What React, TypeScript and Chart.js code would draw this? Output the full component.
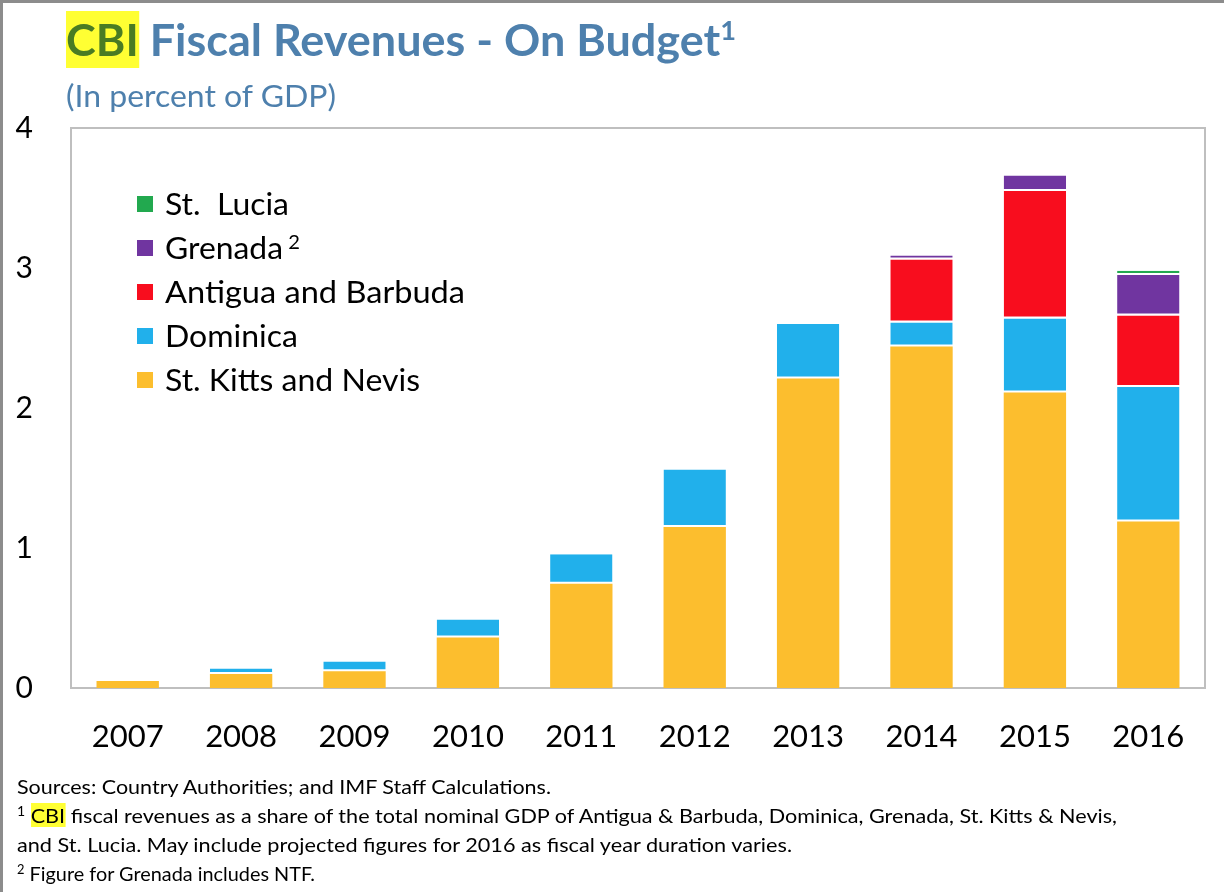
import React, { useEffect, useLayoutEffect, useRef } from "react";
import { Chart, registerables } from "chart.js";

Chart.register(...registerables);

const years = ["2007", "2008", "2009", "2010", "2011", "2012", "2013", "2014", "2015", "2016"];
const stKittsNevis = [0.05, 0.1, 0.12, 0.36, 0.745, 1.15, 2.21, 2.44, 2.11, 1.19];
const dominica = [null, 0.04, 0.07, 0.13, 0.21, 0.41, 0.39, 0.17, 0.53, 0.96];
const antiguaBarbuda = [null, null, null, null, null, null, null, 0.45, 0.91, 0.51];
const grenada = [null, null, null, null, null, null, null, 0.03, 0.11, 0.29];
const stLucia = [null, null, null, null, null, null, null, null, null, 0.03];
const yTickValues = [0, 1, 2, 3, 4];

const COLORS = {
  stLucia: "#22A94F",
  grenada: "#7035A0",
  antigua: "#F80D1E",
  dominica: "#21B0EB",
  stKitts: "#FCBE2E",
};

const FONT = "Lato, 'Open Sans', sans-serif";
const TITLE_BLUE = "#4E80AD";

const legendItems = [
  { label: "St.  Lucia", sup: "", color: COLORS.stLucia, w: 124 },
  { label: "Grenada", sup: "2", color: COLORS.grenada, w: 135 },
  { label: "Antigua and Barbuda", sup: "", color: COLORS.antigua, w: 300 },
  { label: "Dominica", sup: "", color: COLORS.dominica, w: 133 },
  { label: "St. Kitts and Nevis", sup: "", color: COLORS.stKitts, w: 255 },
];

const boxPlugin = {
  id: "boxPlugin",
  beforeDatasetsDraw(chart: any) {
    const { ctx, chartArea } = chart;
    ctx.save();
    ctx.strokeStyle = "#BFBFBF";
    ctx.lineWidth = 2;
    ctx.strokeRect(chartArea.left, chartArea.top, chartArea.right - chartArea.left, chartArea.bottom - chartArea.top);
    ctx.restore();
  },
};

function FitText({ width, style, children }: { width: number; style: any; children: any }) {
  const ref = useRef<HTMLDivElement>(null);
  useLayoutEffect(() => {
    const el = ref.current;
    if (!el) return;
    el.style.transform = "none";
    const w = el.getBoundingClientRect().width;
    if (w > 0) el.style.transform = `scaleX(${width / w})`;
  }, [width]);
  return (
    <div
      ref={ref}
      style={{ position: "absolute", whiteSpace: "pre", transformOrigin: "left center", ...style }}
    >
      {children}
    </div>
  );
}

export default function App() {
  const canvasRef = useRef<HTMLCanvasElement>(null);

  useEffect(() => {
    const canvas = canvasRef.current;
    if (!canvas) return;
    const sep = { top: 0, right: 0, bottom: 2, left: 0 };
    const mk = (label: string, data: any[], color: string, border: any) => ({
      label,
      data,
      backgroundColor: color,
      borderColor: "#FFFFFF",
      borderWidth: border,
      borderSkipped: false as any,
      categoryPercentage: 1,
      barPercentage: 0.55,
    });
    const chart = new Chart(canvas, {
      type: "bar",
      data: {
        labels: years,
        datasets: [
          mk("St. Kitts and Nevis", stKittsNevis, COLORS.stKitts, 0),
          mk("Dominica", dominica, COLORS.dominica, sep),
          mk("Antigua and Barbuda", antiguaBarbuda, COLORS.antigua, sep),
          mk("Grenada", grenada, COLORS.grenada, sep),
          mk("St. Lucia", stLucia, COLORS.stLucia, sep),
        ],
      },
      options: {
        responsive: false,
        animation: false,
        layout: { padding: { left: 0, top: 128, right: 19, bottom: 124 } },
        plugins: { legend: { display: false }, tooltip: { enabled: false } },
        scales: {
          x: {
            stacked: true,
            grid: { display: false, drawTicks: false },
            border: { display: false },
            ticks: { color: "#000", font: { family: FONT, size: 31 }, padding: 30 },
            afterFit: (s: any) => {
              s.height = 80;
            },
          },
          y: {
            stacked: true,
            min: 0,
            max: 4,
            afterBuildTicks: (s: any) => {
              s.ticks = yTickValues.map((v) => ({ value: v }));
            },
            grid: { display: false, drawTicks: false },
            border: { display: false },
            ticks: { color: "#000", font: { family: FONT, size: 30 }, padding: 38 },
            afterFit: (s: any) => {
              s.width = 71;
            },
          },
        },
      },
      plugins: [boxPlugin],
    });
    return () => chart.destroy();
  }, []);

  return (
    <div
      style={{
        position: "fixed",
        left: 0,
        top: 0,
        width: 1224,
        height: 892,
        background: "#fff",
        overflow: "hidden",
        fontFamily: FONT,
      }}
    >
      <canvas ref={canvasRef} width={1224} height={892} style={{ position: "absolute", left: 0, top: 0 }} />
      <div style={{ position: "absolute", left: 0, top: 0, width: 1224, height: 3, background: "#8C8C8C" }} />
      <div style={{ position: "absolute", left: 0, top: 0, width: 3, height: 892, background: "#8C8C8C" }} />

      <FitText width={670} style={{ left: 66, top: 13, fontSize: 43, fontWeight: 700, color: TITLE_BLUE, lineHeight: "54px" }}>
        <span style={{ background: "#FFFF33", color: "#4A7C23", padding: "3px 0" }}>CBI</span> Fiscal Revenues - On Budget
        <sup style={{ fontSize: 26, lineHeight: 0, verticalAlign: 0, position: "relative", top: -16 }}>1</sup>
      </FitText>
      <FitText width={270} style={{ left: 66, top: 75, fontSize: 30, color: TITLE_BLUE, lineHeight: "40px" }}>
        (In percent of GDP)
      </FitText>

      {legendItems.map((it, i) => (
        <React.Fragment key={it.label}>
          <div
            style={{
              position: "absolute",
              left: 137,
              top: 196 + i * 44,
              width: 16,
              height: 16,
              background: it.color,
            }}
          />
          <FitText
            width={it.w}
            style={{
              left: 165,
              top: 183 + i * 44,
              fontSize: 30,
              lineHeight: "40px",
              color: "#000",
            }}
          >
            {it.label}
            {it.sup ? (
              <span style={{ fontSize: 19, position: "relative", top: -10, marginLeft: 5 }}>{it.sup}</span>
            ) : null}
          </FitText>
        </React.Fragment>
      ))}

      <FitText width={534} style={{ left: 17, top: 772, fontSize: 20, color: "#000", lineHeight: "28px" }}>
        Sources: Country Authorities; and IMF Staff Calculations.
      </FitText>
      <FitText width={1100} style={{ left: 17, top: 801, fontSize: 20, color: "#000", lineHeight: "28px" }}>
        <span style={{ fontSize: 13, position: "relative", top: -7 }}>1</span>{" "}
        <span style={{ background: "#FFFF33" }}>CBI</span> fiscal revenues as a share of the total nominal GDP of Antigua &amp; Barbuda, Dominica, Grenada, St. Kitts &amp; Nevis,
      </FitText>
      <FitText width={775} style={{ left: 17, top: 830, fontSize: 20, color: "#000", lineHeight: "28px" }}>
        and St. Lucia. May include projected figures for 2016 as fiscal year duration varies.
      </FitText>
      <FitText width={298} style={{ left: 17, top: 859, fontSize: 20, color: "#000", lineHeight: "28px" }}>
        <span style={{ fontSize: 13, position: "relative", top: -7 }}>2</span> Figure for Grenada includes NTF.
      </FitText>
    </div>
  );
}
